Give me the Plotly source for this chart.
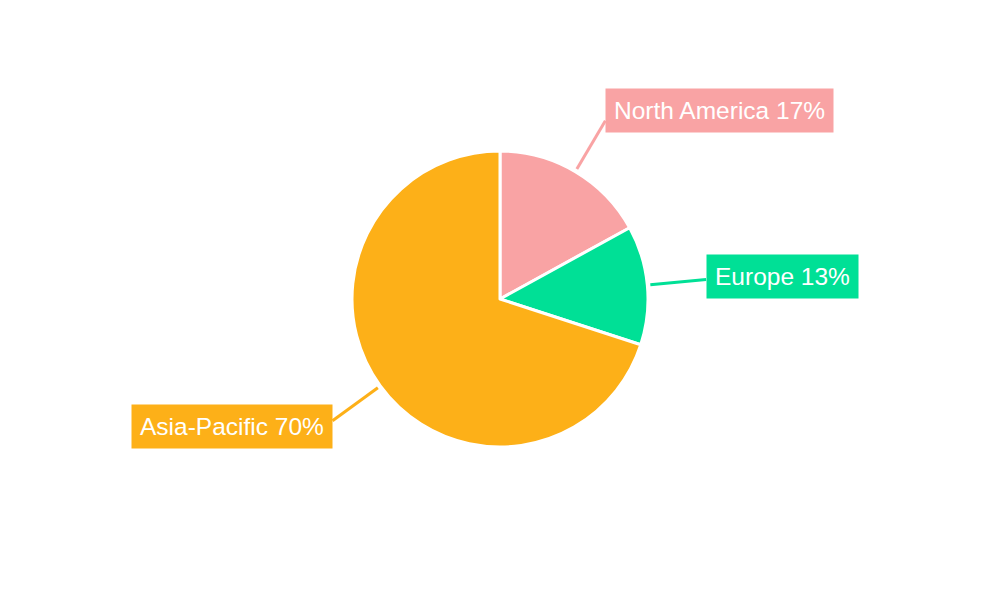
import math
import plotly.graph_objects as go

# ---- data ----
regions = ["North America", "Europe", "Asia-Pacific"]
shares = [17, 13, 70]
colors = ["#F9A3A4", "#00E096", "#FDB018"]

# ---- layout constants (pixels, figure coordinates) ----
W, H = 1000, 600
CX, CY, R = 492, 291, 148
LINE_START = R + 3
TAIL_R = 207
label_dy = [-10, -3, 6]  # vertical box offset from line end (style)

dom_y = [1 - (CY + R) / H, 1 - (CY - R) / H]
dom_x = [(CX - R - 100) / W, (CX + R + 100) / W]

fig = go.Figure(go.Pie(
    labels=regions, values=shares, sort=False, direction="clockwise",
    rotation=0, marker=dict(colors=colors, line=dict(color="white", width=3)),
    textinfo="none", hoverinfo="label+percent", showlegend=False,
    domain=dict(x=dom_x, y=dom_y),
))

total = sum(shares)
cum = 0
shapes, annotations = [], []
for name, v, c, dy in zip(regions, shares, colors, label_dy):
    mid = 90 - (cum + v / 2) / total * 360
    cum += v
    a = math.radians(mid)
    x0 = CX + LINE_START * math.cos(a)
    y0 = CY - LINE_START * math.sin(a)
    x1 = CX + TAIL_R * math.cos(a)
    y1 = CY - TAIL_R * math.sin(a)
    right = math.cos(a) >= 0
    shapes.append(dict(type="line", xref="paper", yref="paper",
                       x0=x0 / W, y0=1 - y0 / H, x1=x1 / W, y1=1 - y1 / H,
                       line=dict(color=c, width=3), layer="above"))
    pct = round(v / total * 100)
    annotations.append(dict(
        xref="paper", yref="paper", x=x1 / W, y=1 - y1 / H,
        xanchor="left" if right else "right", yanchor="middle",
        yshift=-dy, showarrow=False,
        text=f"{name} {pct}%", bgcolor=c, borderpad=8,
        font=dict(family="Liberation Sans, Arial, sans-serif", size=24.5, color="white"),
    ))

fig.update_layout(
    width=W, height=H, margin=dict(l=0, r=0, t=0, b=0),
    paper_bgcolor="white", plot_bgcolor="white",
    shapes=shapes, annotations=annotations,
)
fig.write_html("out.html")
